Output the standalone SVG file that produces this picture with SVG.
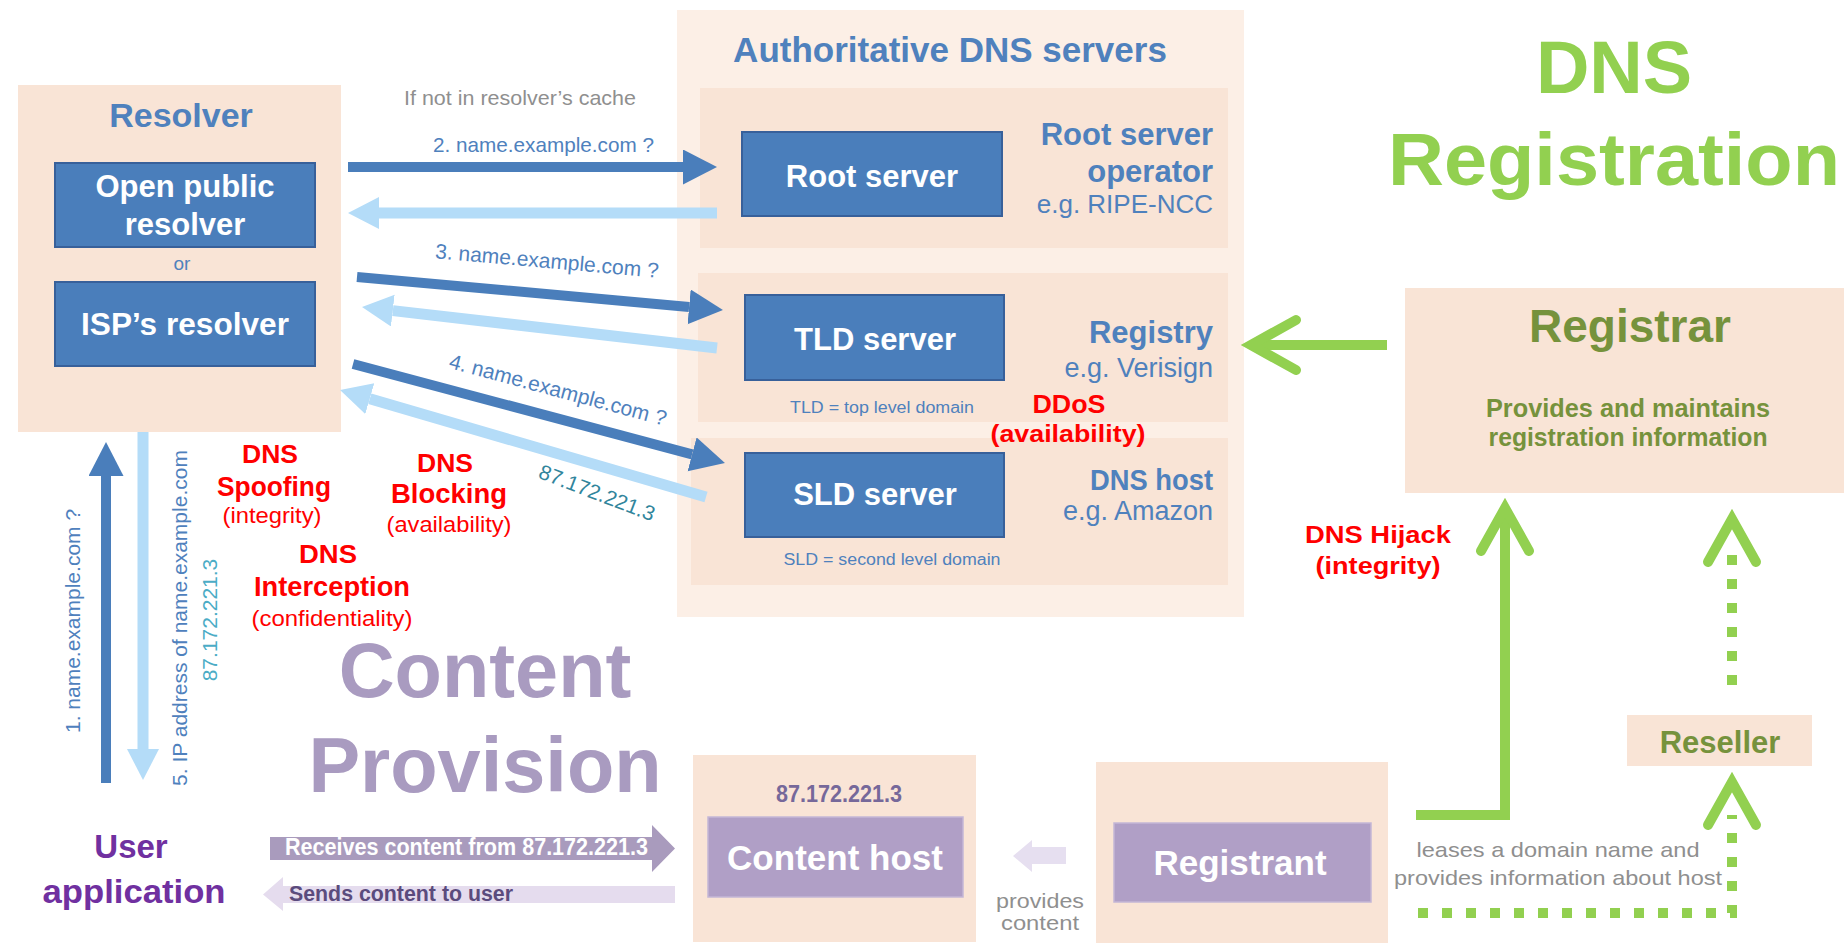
<svg xmlns="http://www.w3.org/2000/svg" width="1844" height="943" viewBox="0 0 1844 943">
<style>
text{font-family:"Liberation Sans",Arial,Helvetica,sans-serif}
.peach{fill:#f9e4d6}
.peach2{fill:#fcefe6}
.bbox{fill:#4a7ebb;stroke:#38609a;stroke-width:2}
.pbox{fill:#b09fc6;stroke:#c4b6d6;stroke-width:1.5}
.wt{fill:#ffffff;font-weight:bold;text-anchor:middle}
.bt{fill:#4f81bd}
.bttl{fill:#4f81bd;font-weight:bold;font-size:34px;text-anchor:middle}
.side{fill:#4f81bd;text-anchor:end}
.red{fill:#ff0000;text-anchor:middle}
.gray{fill:#8f8f8f;font-size:21px}
.olive{fill:#76923c;font-weight:bold;text-anchor:middle}
.dk{stroke:#4a7ebb;stroke-width:10;fill:none}
.lt{stroke:#b4dcf8;stroke-width:11;fill:none}
.gr{stroke:#92d050;stroke-width:10;fill:none}
.grd{stroke:#92d050;stroke-width:10;fill:none;stroke-dasharray:10 14}
</style>
<defs>
<marker id="hdDark" markerUnits="userSpaceOnUse" markerWidth="36" markerHeight="36" refX="0" refY="17.5" orient="auto" viewBox="0 0 36 36"><path d="M0,0 L34,17.5 L0,35 Z" fill="#4a7ebb"/></marker>
<marker id="hdLight" markerUnits="userSpaceOnUse" markerWidth="34" markerHeight="34" refX="0" refY="16" orient="auto" viewBox="0 0 34 34"><path d="M0,0 L31,16 L0,32 Z" fill="#b4dcf8"/></marker>
</defs>
<rect width="1844" height="943" fill="#ffffff"/>

<!-- Big section titles -->
<g id="title-dns-registration" font-weight="bold" fill="#92d050" text-anchor="middle" font-size="74">
<text x="1614" y="93">DNS</text>
<text x="1614" y="185" textLength="452" lengthAdjust="spacingAndGlyphs">Registration</text>
</g>
<g id="title-content-provision" font-weight="bold" fill="#a99bc0" text-anchor="middle" font-size="77.5">
<text x="485" y="697">Content</text>
<text x="485" y="792">Provision</text>
</g>

<!-- Resolver -->
<g id="resolver">
<rect class="peach" x="18" y="85" width="323" height="347"/>
<text class="bttl" x="181" y="127">Resolver</text>
<text class="bt" x="182" y="270" font-size="19" text-anchor="middle">or</text>
</g>
<g id="open-public-resolver">
<rect class="bbox" x="55" y="163" width="260" height="84"/>
<text class="wt" x="185" y="197" font-size="31">Open public</text>
<text class="wt" x="185" y="235" font-size="31">resolver</text>
</g>
<g id="isp-resolver">
<rect class="bbox" x="55" y="282" width="260" height="84"/>
<text class="wt" x="185" y="335" font-size="31" textLength="208" lengthAdjust="spacingAndGlyphs">ISP’s resolver</text>
</g>

<!-- Authoritative DNS servers -->
<g id="authoritative-dns-servers">
<rect class="peach2" x="677" y="10" width="567" height="607"/>
<text class="bttl" x="950" y="62" style="font-size:35px">Authoritative DNS servers</text>
</g>
<g id="root-row">
<rect class="peach" x="700" y="88" width="528" height="160"/>
<text class="side" x="1213" y="145" font-size="31" font-weight="bold">Root server</text>
<text class="side" x="1213" y="182" font-size="31" font-weight="bold">operator</text>
<text class="side" x="1213" y="213" font-size="26">e.g. RIPE-NCC</text>
</g>
<g id="root-server">
<rect class="bbox" x="742" y="132" width="260" height="84"/>
<text class="wt" x="872" y="187" font-size="31">Root server</text>
</g>
<g id="tld-row">
<rect class="peach" x="698" y="273" width="530" height="149"/>
<text class="side" x="1213" y="343" font-size="31" font-weight="bold">Registry</text>
<text class="side" x="1213" y="377" font-size="27">e.g. Verisign</text>
<text class="bt" x="882" y="413" font-size="16" text-anchor="middle" textLength="184" lengthAdjust="spacingAndGlyphs">TLD = top level domain</text>
</g>
<g id="tld-server">
<rect class="bbox" x="745" y="295" width="259" height="85"/>
<text class="wt" x="875" y="350" font-size="31">TLD server</text>
</g>
<g id="sld-row">
<rect class="peach" x="691" y="438" width="537" height="147"/>
<text class="side" x="1213" y="490" font-size="29" font-weight="bold" textLength="123" lengthAdjust="spacingAndGlyphs">DNS host</text>
<text class="side" x="1213" y="520" font-size="27">e.g. Amazon</text>
<text class="bt" x="892" y="565" font-size="16" text-anchor="middle" textLength="217" lengthAdjust="spacingAndGlyphs">SLD = second level domain</text>
</g>
<g id="sld-server">
<rect class="bbox" x="745" y="453" width="259" height="84"/>
<text class="wt" x="875" y="505" font-size="31">SLD server</text>
</g>

<!-- Registrar -->
<g id="registrar">
<rect class="peach" x="1405" y="288" width="439" height="205"/>
<text class="olive" x="1630" y="342" font-size="46">Registrar</text>
<text class="olive" x="1628" y="417" font-size="25" textLength="284" lengthAdjust="spacingAndGlyphs">Provides and maintains</text>
<text class="olive" x="1628" y="446" font-size="25" textLength="279" lengthAdjust="spacingAndGlyphs">registration information</text>
</g>
<g id="reseller">
<rect class="peach" x="1627" y="715" width="185" height="51"/>
<text class="olive" x="1720" y="753" font-size="31">Reseller</text>
</g>

<!-- Content host -->
<g id="content-host-area">
<rect class="peach" x="693" y="755" width="283" height="187"/>
<text x="839" y="802" font-size="24" font-weight="bold" fill="#76689a" text-anchor="middle" textLength="126" lengthAdjust="spacingAndGlyphs">87.172.221.3</text>
</g>
<g id="content-host">
<rect class="pbox" x="708" y="817" width="255" height="80"/>
<text class="wt" x="835" y="870" font-size="35">Content host</text>
</g>
<g id="registrant-area">
<rect class="peach" x="1096" y="762" width="292" height="181"/>
</g>
<g id="registrant">
<rect class="pbox" x="1114" y="823" width="257" height="79"/>
<text class="wt" x="1240" y="875" font-size="35">Registrant</text>
</g>
<g id="user-application" font-weight="bold" fill="#7030a0" text-anchor="middle" font-size="33">
<text x="131" y="858">User</text>
<text x="134" y="903" textLength="183" lengthAdjust="spacingAndGlyphs">application</text>
</g>

<!-- Connectors -->
<g id="connectors">
<line class="dk" x1="348" y1="167" x2="683" y2="167" marker-end="url(#hdDark)"/>
<line class="lt" x1="717" y1="213" x2="379" y2="213" marker-end="url(#hdLight)"/>
<line class="dk" x1="357" y1="277" x2="689.1" y2="306.9" marker-end="url(#hdDark)"/>
<line class="lt" x1="717" y1="348" x2="392.8" y2="310.6" marker-end="url(#hdLight)"/>
<line class="dk" x1="353" y1="364" x2="692.1" y2="454.3" marker-end="url(#hdDark)"/>
<line class="lt" x1="706" y1="497" x2="369.8" y2="398.7" marker-end="url(#hdLight)"/>
<line class="dk" x1="106" y1="783" x2="106" y2="476" marker-end="url(#hdDark)"/>
<line class="lt" x1="143" y1="432" x2="143" y2="749" marker-end="url(#hdLight)"/>

<line class="gr" x1="1387" y1="345" x2="1254" y2="345"/>
<polyline class="gr" points="1296,320 1251,345 1296,370" stroke-linecap="round"/>
<polyline class="gr" points="1416,815 1505,815 1505,512" stroke-width="11"/>
<polyline class="gr" points="1481,551 1505,508 1529,551" stroke-width="11" stroke-linecap="round"/>
<line class="grd" x1="1732" y1="685" x2="1732" y2="555"/>
<polyline class="gr" points="1708,562 1732,519 1756,562" stroke-linecap="round"/>
<polyline class="grd" points="1418,913 1732,913 1732,815" stroke-dasharray="10 13.5"/>
<polyline class="gr" points="1708,825 1732,782 1756,825" stroke-linecap="round"/>

<polygon points="270,837 652,837 652,825 675,848.5 652,872 652,860 270,860" fill="#a99bbd"/>
<polygon points="675,886 283,886 283,877 263,894.5 283,911 283,903 675,903" fill="#e5dcee"/>
<polygon points="1066,847 1032,847 1032,840 1013,856 1032,872 1032,864 1066,864" fill="#e6dff0"/>
</g>

<!-- Connector labels -->
<g id="connector-labels">
<text class="gray" x="404" y="105" textLength="232" lengthAdjust="spacingAndGlyphs">If not in resolver’s cache</text>
<text class="bt" x="433" y="152" font-size="21" textLength="221" lengthAdjust="spacingAndGlyphs">2. name.example.com ?</text>
<text class="bt" x="547" y="268" font-size="21" text-anchor="middle" transform="rotate(5 547 261)">3. name.example.com ?</text>
<text class="bt" x="558" y="397" font-size="21" text-anchor="middle" transform="rotate(15 558 390)">4. name.example.com ?</text>
<text x="597" y="500" font-size="21" fill="#31859c" text-anchor="middle" transform="rotate(21 597 493)">87.172.221.3</text>
<text class="bt" font-size="21" text-anchor="middle" transform="translate(80 621) rotate(-90)">1. name.example.com ?</text>
<text class="bt" font-size="21" text-anchor="middle" transform="translate(187 618) rotate(-90)">5. IP address of name.example.com</text>
<text font-size="21" fill="#4bacc6" text-anchor="middle" transform="translate(217 620) rotate(-90)">87.172.221.3</text>
<text x="285" y="855" font-size="23" font-weight="bold" fill="#ffffff" textLength="363" lengthAdjust="spacingAndGlyphs">Receives content from 87.172.221.3</text>
<text x="289" y="901" font-size="22" font-weight="bold" fill="#5b4b7d" textLength="224" lengthAdjust="spacingAndGlyphs">Sends content to user</text>
<text class="gray" x="1040" y="908" text-anchor="middle" textLength="88" lengthAdjust="spacingAndGlyphs">provides</text>
<text class="gray" x="1040" y="930" text-anchor="middle" textLength="78" lengthAdjust="spacingAndGlyphs">content</text>
<text class="gray" x="1558" y="857" text-anchor="middle" fill="#a3a3a3" textLength="283" lengthAdjust="spacingAndGlyphs">leases a domain name and</text>
<text class="gray" x="1558" y="885" text-anchor="middle" fill="#a3a3a3" textLength="328" lengthAdjust="spacingAndGlyphs">provides information about host</text>
</g>

<!-- Threat labels -->
<g id="threats" font-weight="bold">
<g id="threat-spoofing">
<text class="red" x="270" y="463" font-size="25" textLength="56" lengthAdjust="spacingAndGlyphs">DNS</text>
<text class="red" x="274" y="496" font-size="27" textLength="114" lengthAdjust="spacingAndGlyphs">Spoofing</text>
<text class="red" x="272" y="523" font-size="22" font-weight="normal" textLength="99" lengthAdjust="spacingAndGlyphs">(integrity)</text>
</g>
<g id="threat-blocking">
<text class="red" x="445" y="472" font-size="25" textLength="56" lengthAdjust="spacingAndGlyphs">DNS</text>
<text class="red" x="449" y="503" font-size="27" textLength="116" lengthAdjust="spacingAndGlyphs">Blocking</text>
<text class="red" x="449" y="532" font-size="22" font-weight="normal" textLength="125" lengthAdjust="spacingAndGlyphs">(availability)</text>
</g>
<g id="threat-interception">
<text class="red" x="328" y="563" font-size="25" textLength="58" lengthAdjust="spacingAndGlyphs">DNS</text>
<text class="red" x="332" y="596" font-size="27" textLength="156" lengthAdjust="spacingAndGlyphs">Interception</text>
<text class="red" x="332" y="626" font-size="22" font-weight="normal" textLength="161" lengthAdjust="spacingAndGlyphs">(confidentiality)</text>
</g>
<g id="threat-ddos">
<text class="red" x="1069" y="413" font-size="26" textLength="73" lengthAdjust="spacingAndGlyphs">DDoS</text>
<text class="red" x="1068" y="442" font-size="24" textLength="155" lengthAdjust="spacingAndGlyphs">(availability)</text>
</g>
<g id="threat-hijack">
<text class="red" x="1378" y="543" font-size="24" textLength="146" lengthAdjust="spacingAndGlyphs">DNS Hijack</text>
<text class="red" x="1378" y="574" font-size="24" textLength="125" lengthAdjust="spacingAndGlyphs">(integrity)</text>
</g>
</g>
</svg>
